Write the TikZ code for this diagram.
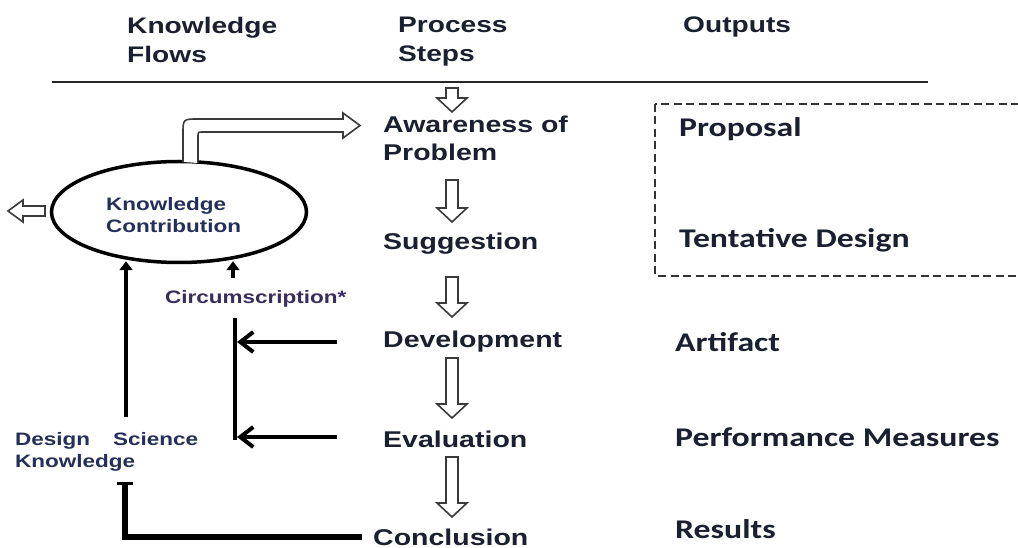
\documentclass[tikz,border=0pt]{standalone}
\usepackage{fontspec}
\setmainfont{Liberation Sans}
\newfontfamily\arb{Liberation Sans}[FakeStretch=1.25]
\newfontfamily\cab{Carlito}[FakeStretch=1.25]
\usetikzlibrary{arrows.meta,shapes.geometric,calc}
\definecolor{ink}{HTML}{1A2030}
\definecolor{navy}{HTML}{24305A}
\definecolor{circcol}{HTML}{3A2C5C}
\definecolor{hollowgray}{HTML}{3A3A3A}
\newcommand\hdown[2]{\draw[hollow] ($(#1)+(-6,0)$) -- ($(#2)+(-6,-14)$) -- ($(#2)+(-15,-14)$) -- (#2) -- ($(#2)+(15,-14)$) -- ($(#2)+(6,-14)$) -- ($(#1)+(6,0)$) -- cycle;}
\begin{document}
\begin{tikzpicture}[x=1pt,y=-1pt,
  hdr/.style={font={\arb\bfseries\fontsize{22.5}{29}\selectfont}, text=ink, inner sep=0pt, align=left},
  stp/.style={font={\arb\bfseries\fontsize{22.8}{28}\selectfont}, text=ink, inner sep=0pt, align=left},
  outp/.style={font={\cab\bfseries\fontsize{27}{32}\selectfont}, text=ink, inner sep=0pt},
  smalltxt/.style={font={\arb\bfseries\fontsize{18}{22}\selectfont}, text=navy, inner sep=0pt, align=left},
  hollow/.style={draw=hollowgray, line width=1.6pt, fill=white, line join=miter},
  flow/.style={draw=black, line width=4.5pt},
  tri/.style={-{Triangle[length=9pt,width=13pt]}},
  barb/.style={-{Straight Barb[length=13pt,width=20pt,line width=4pt]}},
]
\useasboundingbox (0,0) rectangle (1018,548);

% headers
\node[hdr, anchor=north west] (hkf) at (127,16.6) {Knowledge\\Flows};
\node[hdr, anchor=north west] (hps) at (398,16.9) {Process\\Steps};
\node[hdr, anchor=base west] (hout) at (683,33) {Outputs};
\coordinate (rulel) at (52,82);
\coordinate (ruler) at (928,82);
\draw[line width=2pt, draw=black!85] (rulel) -- (ruler);

% process steps
\node[stp, anchor=north west] (aw) at (383,115.4) {Awareness of\\Problem};
\node[stp, anchor=base west] (sug) at (383,250) {Suggestion};
\node[stp, anchor=base west] (dev) at (383,347) {Development};
\node[stp, anchor=base west] (eva) at (383,447) {Evaluation};
\node[stp, anchor=base west] (con) at (373,545) {Conclusion};

% outputs
\draw[line width=2pt, draw=black!80, dash pattern=on 8pt off 4.5pt] (655,104) rectangle (1040,276);
\node[outp, anchor=base west] (prop) at (679,137) {Proposal};
\node[outp, anchor=base west] (tent) at (679,248) {Tentative Design};
\node[outp, anchor=base west] (art) at (675,351) {Artifact};
\node[outp, anchor=base west] (perf) at (675,446) {Performance Measures};
\node[outp, anchor=base west] (res) at (675,538) {Results};

% hollow down arrows
\coordinate (a1t) at (452,88);  \coordinate (a1b) at (452,112);
\coordinate (a2t) at (452,180); \coordinate (a2b) at (452,222);
\coordinate (a3t) at (452,277); \coordinate (a3b) at (452,317);
\coordinate (a4t) at (452,358); \coordinate (a4b) at (452,418);
\coordinate (a5t) at (452,457); \coordinate (a5b) at (452,517);
\hdown{a1t}{a1b}
\hdown{a2t}{a2b}
\hdown{a3t}{a3b}
\hdown{a4t}{a4b}
\hdown{a5t}{a5b}

% knowledge contribution
\node[draw, ellipse, line width=3.5pt, minimum width=255pt, minimum height=101pt, inner sep=0pt] (kc) at (179,212) {};
\node[smalltxt, anchor=north west] (kct) at (106,196.9) {Knowledge\\Contribution};

% left hollow arrow
\coordinate (lhs) at (45,211);
\coordinate (lht) at (8,211);
\draw[hollow] ($(lhs)+(0,-5)$) -- ($(lht)+(15,-5)$) -- ($(lht)+(15,-11)$) -- (lht) -- ($(lht)+(15,11)$) -- ($(lht)+(15,5)$) -- ($(lhs)+(0,5)$) -- cycle;

% bent hollow arrow to Awareness
\draw[hollow] (183,162) -- (183,134) .. controls (183,119) .. (198,119) -- (343,119) -- (343,113) -- (360,125.5) -- (343,138) -- (343,132) -- (203,132) .. controls (198,132) .. (198,137) -- (198,163);

% circumscription
\node[smalltxt, text=circcol, anchor=base west] (circ) at (165,303) {Circumscription*};
\coordinate (cstem) at (233,278);
\draw[flow, tri] (cstem) -- ($(cstem |- kc.south)+(0,-3)$);
\coordinate (cbt) at (235,318);
\coordinate (cbb) at (235,440);
\draw[flow] (cbt) -- (cbb);
\coordinate (devin) at (337,342);
\coordinate (evain) at (337,437);
\draw[flow, line width=4pt, barb] (devin) -- ($(devin -| cbt)+(2,0)$);
\draw[flow, line width=4pt, barb] (evain) -- ($(evain -| cbt)+(2,0)$);

% design science knowledge
\node[smalltxt, anchor=north west] (dsk) at (15,431.8) {\hbox to 183pt{Design\hfill Science}\\Knowledge};
\coordinate (dstop) at (126,417);
\draw[flow, tri] (dstop) -- ($(dstop |- kc.south)+(0,-3)$);
\coordinate (conout) at (362,537);
\coordinate (dsbot) at (125,482);
\draw[flow, line width=5.5pt, line join=miter, -{Bar[width=16pt,line width=3pt]}] (conout) -| (dsbot);
\end{tikzpicture}
\end{document}
